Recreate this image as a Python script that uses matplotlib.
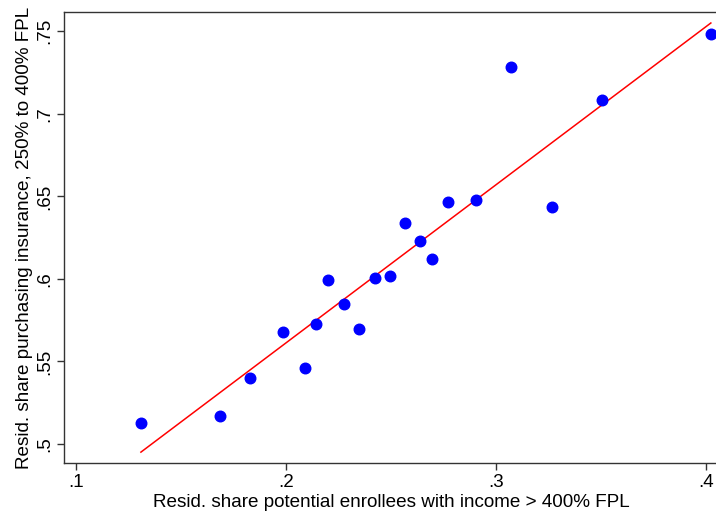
import numpy as np
import matplotlib.pyplot as plt
from matplotlib.ticker import FuncFormatter

plt.rcParams['font.family'] = ['Liberation Sans', 'DejaVu Sans']

# residualised shares
share_high_income = [0.131, 0.1684, 0.1828, 0.1988, 0.2092, 0.2142, 0.2202, 0.2278, 0.2348, 0.2424,
                     0.2496, 0.2568, 0.2638, 0.2696, 0.2770, 0.2904, 0.3070, 0.3268, 0.3502, 0.4022]
share_purchasing = [0.513, 0.5167, 0.540, 0.5677, 0.5462, 0.5724, 0.5994, 0.5851, 0.5698, 0.6006,
                    0.602, 0.6341, 0.6232, 0.6119, 0.6464, 0.648, 0.7286, 0.6435, 0.7081, 0.7484]
x_ticks = [0.1, 0.2, 0.3, 0.4]
y_ticks = [0.5, 0.55, 0.6, 0.65, 0.7, 0.75]

x = np.array(share_high_income)
y = np.array(share_purchasing)

# linear fit over the range of the data
slope, intercept = np.polyfit(x, y, 1)
xfit = np.array([x.min(), x.max()])
yfit = intercept + slope * xfit

fig = plt.figure(figsize=(7.16, 5.16), dpi=100)
ax = fig.add_axes([64 / 716, 1 - 463 / 516, 654 / 716, 451 / 516])

ax.plot(x, y, 'o', color='#0000ff', ms=7.6, mec='#0000ff', zorder=3)
ax.plot(xfit, yfit, color='#ff0000', lw=1.1, zorder=2)

ax.set_xlim(0.0944, 0.4056)
ax.set_ylim(0.4885, 0.7617)
ax.set_xticks(x_ticks)
ax.set_yticks(y_ticks)

def strip_zero(v, pos):
    s = ('%.2f' % v).rstrip('0')
    return s[1:] if s.startswith('0') else s

ax.xaxis.set_major_formatter(FuncFormatter(strip_zero))
ax.yaxis.set_major_formatter(FuncFormatter(strip_zero))
ax.tick_params(axis='both', direction='out', length=5, width=1, labelsize=13.5, color='#333333', pad=3)
plt.setp(ax.get_yticklabels(), rotation=90, va='center')

for s in ax.spines.values():
    s.set_linewidth(1)
    s.set_color('#333333')

ax.set_xlabel('Resid. share potential enrollees with income > 400% FPL', fontsize=13.6, labelpad=2)
ax.set_ylabel('Resid. share purchasing insurance, 250% to 400% FPL', fontsize=13.6, labelpad=2)

fig.savefig('out.png', dpi=100)
